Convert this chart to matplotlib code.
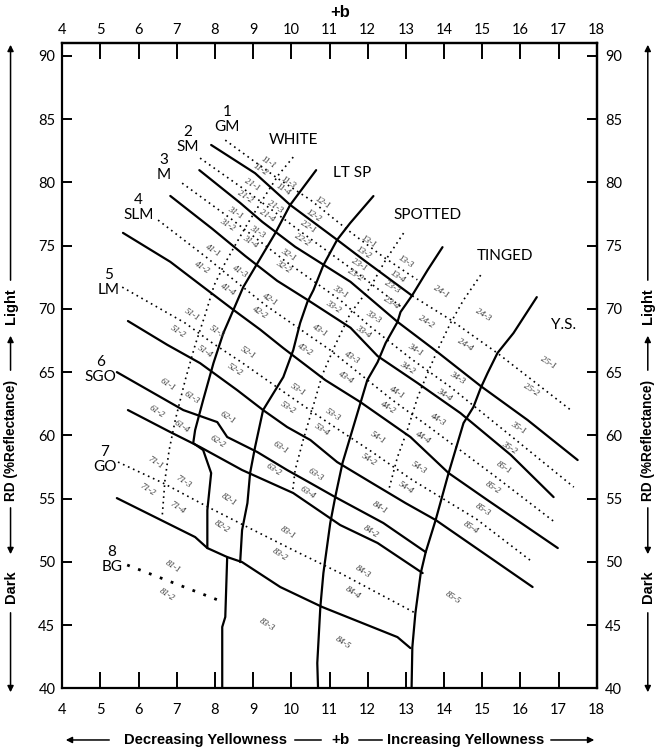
import matplotlib.pyplot as plt
from matplotlib.lines import Line2D

# x axis is +b (yellowness), y axis is Rd (% reflectance)
b_ticks = list(range(4, 19))
rd_ticks = list(range(40, 91, 5))

# solid grade boundaries (upper left to lower right)
gm_sm_line = [(7.90, 82.96), (9.05, 80.73), (9.97, 78.22), (11.20, 75.46), (11.89, 73.88), (13.17, 71.03)]
sm_m_line = [(7.59, 80.97), (8.66, 78.38), (9.24, 76.88), (10.10, 74.91), (11.55, 72.14), (12.78, 68.98),
             (13.83, 66.58), (14.96, 63.90), (16.19, 61.21), (17.50, 58.05)]
m_slm_line = [(6.83, 78.93), (7.93, 76.33), (8.79, 74.19), (9.63, 72.22), (10.42, 70.72), (11.55, 68.51),
              (12.26, 66.27), (13.31, 64.13), (14.43, 61.76), (15.75, 58.45), (16.87, 55.12)]
slm_lm_line = [(5.59, 76.01), (6.83, 73.72), (7.69, 71.74), (8.48, 69.93), (9.19, 68.35), (9.79, 66.90),
               (10.89, 64.37), (11.81, 62.63), (13.12, 59.87), (14.12, 57.02), (15.14, 54.88), (16.98, 51.09)]
lm_sgo_line = [(5.72, 69.04), (6.75, 67.16), (7.61, 65.71), (8.58, 63.58), (9.26, 62.00), (9.89, 60.66),
               (10.50, 59.63), (11.20, 57.89), (12.07, 56.31), (12.99, 54.65), (13.78, 53.31), (16.32, 48.01)]
sgo_mid_line = [(5.43, 65.00), (7.17, 62.00), (8.06, 61.05), (8.32, 59.87), (9.11, 58.68), (9.89, 57.26),
                (10.50, 56.23), (11.15, 55.12), (12.41, 53.07), (13.52, 50.77)]
sgo_go_line = [(5.72, 62.00), (6.83, 60.26), (7.61, 59.08), (8.71, 57.26), (10.05, 55.44), (11.28, 52.91),
               (12.26, 51.49), (13.44, 49.11)]
go_bg_line = [(5.43, 55.04), (7.48, 51.96), (7.80, 51.09), (8.32, 50.38), (8.71, 49.98), (9.71, 48.01),
              (10.81, 46.43), (12.78, 44.05), (13.12, 43.18)]

# solid colour boundaries (top to bottom)
white_ltsp_line = [(10.65, 80.97), (9.97, 78.22), (9.58, 75.99), (9.13, 73.70), (8.74, 71.72), (8.48, 69.90),
                   (8.22, 68.09), (7.96, 65.71), (7.69, 62.79), (7.48, 60.42), (7.43, 59.39), (7.69, 58.84),
                   (7.90, 57.02), (7.80, 54.09), (7.80, 51.09)]
ltsp_spotted_line = [(12.15, 78.92), (11.54, 76.78), (11.20, 75.46), (10.84, 73.46), (10.58, 71.49),
                     (10.42, 70.54), (10.23, 68.88), (10.05, 66.74), (9.79, 64.61), (9.26, 62.00),
                     (9.05, 59.07), (8.92, 57.02), (8.85, 54.65), (8.71, 52.51), (8.66, 49.98)]
spotted_tinged_line = [(13.96, 74.88), (13.57, 73.07), (13.17, 71.09), (12.86, 69.75), (12.78, 68.96),
                       (12.47, 67.30), (12.26, 65.79), (11.99, 64.37), (11.81, 62.55), (11.34, 57.81),
                       (11.15, 55.12), (11.02, 53.07), (10.84, 49.11), (10.76, 46.43), (10.68, 42.00),
                       (10.70, 40.00)]
tinged_ys_line = [(16.43, 70.93), (16.09, 69.35), (15.82, 68.09), (15.40, 66.51), (15.14, 64.92),
                  (14.96, 63.74), (14.77, 62.24), (14.51, 60.97), (14.12, 57.02), (13.78, 53.30),
                  (13.52, 50.77), (13.39, 49.11), (13.25, 45.95), (13.17, 43.26), (13.15, 40.00)]
bg_split_line = [(8.32, 50.38), (8.27, 45.64), (8.19, 44.85), (8.19, 40.00)]

# dotted sub-grade dividers
gm_half = [(8.27, 83.34), (9.63, 80.34), (10.50, 78.62), (11.55, 76.07), (12.41, 74.11), (13.30, 72.30)]
tinged_top_half = [(13.17, 71.03), (14.17, 69.14), (15.40, 66.50), (17.32, 62.00)]
sm_half = [(7.61, 81.92), (8.87, 79.23), (10.37, 75.83), (11.73, 72.83), (12.92, 70.06)]
m_half = [(7.14, 79.94), (8.43, 77.10), (9.84, 73.78), (11.28, 70.70), (12.02, 68.72), (13.15, 66.03),
          (14.17, 63.82), (15.82, 59.79), (17.40, 55.91)]
slm_half = [(6.51, 77.02), (7.80, 74.02), (8.50, 72.28), (9.32, 70.30), (11.02, 66.74), (12.65, 62.79),
            (13.65, 60.58), (15.40, 56.62), (16.93, 53.07)]
lm_half = [(5.57, 71.72), (7.22, 68.88), (7.90, 67.37), (8.69, 65.79), (10.03, 62.95), (10.94, 61.05),
           (12.12, 58.68), (13.17, 56.47), (14.85, 53.38), (16.32, 49.98)]
go_half = [(5.46, 57.89), (6.64, 56.23), (7.82, 54.33), (8.85, 52.75), (10.05, 50.93), (11.28, 49.11),
           (13.25, 45.95)]
white_split = [(10.05, 82.00), (9.66, 80.58), (9.24, 78.60), (8.85, 76.72), (8.53, 75.04), (8.24, 73.48),
               (7.98, 71.88), (7.74, 69.51), (7.48, 67.14), (7.22, 64.37), (6.96, 61.21), (6.80, 58.84),
               (6.69, 56.47), (6.62, 53.70)]
spotted_split = [(12.94, 75.99), (12.47, 73.86), (12.07, 71.72), (11.55, 69.67), (11.15, 67.14),
                 (10.81, 64.77), (10.58, 62.39), (10.31, 59.63), (10.10, 57.26), (10.03, 55.44)]
tinged_split = [(14.96, 72.67), (14.51, 70.70), (14.17, 68.88), (13.83, 66.74), (13.57, 64.92),
                (13.31, 63.03), (13.04, 60.42), (12.78, 58.28), (12.55, 55.67)]
bg_half = [(5.70, 49.75), (8.08, 46.98)]

# colour grade codes (code, b, rd)
white_cells = [("11-1", 9.40, 81.60), ("11-2", 9.19, 80.97), ("11-3", 9.92, 80.02), ("11-4", 9.79, 79.39),
               ("21-1", 8.98, 79.79), ("21-2", 8.79, 78.84), ("21-3", 9.58, 78.05), ("21-4", 9.37, 77.34),
               ("31-1", 8.53, 77.57), ("31-2", 8.32, 76.62), ("31-3", 9.11, 76.07), ("31-4", 8.92, 75.28),
               ("41-1", 7.95, 74.57), ("41-2", 7.66, 73.22), ("41-3", 8.66, 72.91), ("41-4", 8.35, 71.49),
               ("51-1", 7.40, 69.51), ("51-2", 7.04, 68.17), ("51-3", 8.06, 68.17), ("51-4", 7.74, 66.58),
               ("61-1", 6.75, 63.98), ("61-2", 6.48, 61.84), ("61-3", 7.40, 62.95), ("61-4", 7.14, 60.66),
               ("71-1", 6.43, 57.81), ("71-2", 6.22, 55.68), ("71-3", 7.17, 56.31), ("71-4", 7.01, 54.25),
               ("81-1", 6.90, 49.59), ("81-2", 6.75, 47.38)]
ltsp_cells = [("12-1", 10.81, 78.36), ("12-2", 10.58, 77.34), ("22-1", 10.45, 76.47), ("22-2", 10.29, 75.44),
              ("32-1", 9.92, 74.25), ("32-2", 9.79, 73.30), ("42-1", 9.45, 70.70), ("42-2", 9.19, 69.67),
              ("52-1", 8.85, 66.51), ("52-2", 8.53, 65.16), ("62-1", 8.32, 61.37), ("62-2", 8.06, 59.47),
              ("82-1", 8.35, 54.88), ("82-2", 8.19, 52.75)]
spotted_cells = [("13-1", 12.02, 75.28), ("13-2", 11.89, 74.41), ("13-3", 12.99, 73.70), ("13-4", 12.78, 72.51),
                 ("23-1", 11.76, 73.46), ("23-2", 11.68, 72.67), ("23-3", 12.65, 71.72), ("23-4", 12.60, 70.46),
                 ("33-1", 11.28, 71.33), ("33-2", 11.10, 70.14), ("33-3", 12.15, 69.35), ("33-4", 11.89, 68.17),
                 ("43-1", 10.76, 68.24), ("43-2", 10.37, 66.74), ("43-3", 11.60, 66.11), ("43-4", 11.42, 64.53),
                 ("53-1", 10.16, 63.58), ("53-2", 9.92, 62.16), ("53-3", 11.10, 61.60), ("53-4", 10.81, 60.42),
                 ("63-1", 9.71, 59.00), ("63-2", 9.53, 57.26), ("63-3", 10.63, 56.86), ("63-4", 10.42, 55.44),
                 ("83-1", 9.92, 52.28), ("83-2", 9.71, 50.54), ("83-3", 9.37, 45.00)]
tinged_cells = [("24-1", 13.91, 71.33), ("24-2", 13.52, 68.96), ("24-3", 15.01, 69.51), ("24-4", 14.56, 67.14),
                ("34-1", 13.25, 66.74), ("34-2", 13.04, 65.32), ("34-3", 14.35, 64.53), ("34-4", 13.99, 63.19),
                ("44-1", 12.78, 63.34), ("44-2", 12.52, 62.16), ("44-3", 13.83, 61.21), ("44-4", 13.46, 59.79),
                ("54-1", 12.26, 59.79), ("54-2", 12.02, 58.05), ("54-3", 13.33, 57.41), ("54-4", 12.99, 55.83),
                ("84-1", 12.33, 54.25), ("84-2", 12.07, 52.36), ("84-3", 11.86, 49.19), ("84-4", 11.60, 47.53),
                ("84-5", 11.36, 43.58)]
ys_cells = [("25-1", 16.72, 65.71), ("25-2", 16.27, 63.58), ("35-1", 15.95, 60.58), ("35-2", 15.69, 59.00),
            ("85-1", 15.56, 57.41), ("85-2", 15.27, 55.83), ("85-3", 15.01, 54.09), ("85-4", 14.70, 52.67),
            ("85-5", 14.22, 47.14)]

# grade names, number above name
grade_numbers = ["1", "2", "3", "4", "5", "6", "7", "8"]
grade_names = ["GM", "SM", "M", "SLM", "LM", "SGO", "GO", "BG"]
grade_b = [8.32, 7.28, 6.66, 6.00, 5.22, 4.99, 5.12, 5.30]
grade_rd = [84.37, 82.78, 80.57, 77.43, 71.49, 64.61, 57.50, 49.59]

colour_names = ["WHITE", "LT SP", "SPOTTED", "TINGED", "Y.S."]
colour_b = [10.05, 11.60, 13.57, 15.61, 17.13]
colour_rd = [83.35, 80.73, 77.43, 74.17, 68.72]

plt.rcParams["font.family"] = ["Lato", "DejaVu Sans"]
caption_font = ["Liberation Sans", "DejaVu Sans"]

fig = plt.figure(figsize=(6.59, 7.54), dpi=100)
ax = fig.add_axes([0.0945, 0.0871, 0.811, 0.8555])
ax.set_xlim(4, 18)
ax.set_ylim(40, 91)

solid_lines = [gm_sm_line, sm_m_line, m_slm_line, slm_lm_line, lm_sgo_line, sgo_mid_line, sgo_go_line,
               go_bg_line, white_ltsp_line, ltsp_spotted_line, spotted_tinged_line, tinged_ys_line,
               bg_split_line]
dotted_lines = [gm_half, tinged_top_half, sm_half, m_half, slm_half, lm_half, go_half,
                white_split, spotted_split, tinged_split]

for line in solid_lines:
    xs, ys = zip(*line)
    ax.plot(xs, ys, color="black", linewidth=1.6, solid_joinstyle="round", solid_capstyle="round")

for line in dotted_lines:
    xs, ys = zip(*line)
    ax.plot(xs, ys, color="black", linewidth=1.2, linestyle=(0, (1, 2.3)))

xs, ys = zip(*bg_half)
ax.plot(xs, ys, color="black", linewidth=2.0, linestyle=(0, (1, 3.2)))

for cells in [white_cells, ltsp_cells, spotted_cells, tinged_cells, ys_cells]:
    for code, b, rd in cells:
        ax.text(b, rd, code, rotation=-33, rotation_mode="anchor", ha="center", va="center",
                fontsize=6.5, family="Liberation Serif", style="italic", color="#333333")

for number, name, b, rd in zip(grade_numbers, grade_names, grade_b, grade_rd):
    ax.text(b, rd, name, ha="center", va="center", fontsize=11)
    ax.text(b, rd + 1.2, number, ha="center", va="center", fontsize=11)

for name, b, rd in zip(colour_names, colour_b, colour_rd):
    ax.text(b, rd, name, ha="center", va="center", fontsize=11)

# ticks on all four sides, pointing in
ax.set_xticks(b_ticks)
ax.set_yticks(rd_ticks)
ax.tick_params(axis="x", direction="in", length=11.5, width=1.4, pad=10.5, labelsize=10.5)
ax.tick_params(axis="y", direction="in", length=7.2, width=1.4, pad=5, labelsize=10.5)
top = ax.secondary_xaxis("top")
top.set_xticks(b_ticks)
top.tick_params(direction="in", length=11.5, width=1.4, pad=4.5, labelsize=10.5)
right = ax.secondary_yaxis("right")
right.set_yticks(rd_ticks)
right.tick_params(direction="in", length=7.2, width=1.4, pad=6, labelsize=10.5)
for axis in (ax, top, right):
    for spine in axis.spines.values():
        spine.set_linewidth(1.6)

# axis captions with arrows
arrow = dict(arrowstyle="-|>", color="black", linewidth=1.1, mutation_scale=9)
fig.text(0.516, 0.984, "+b", ha="center", va="center", fontsize=12, weight="bold", family=caption_font)

caption_y = 0.0186
fig.text(0.3118, caption_y, "Decreasing Yellowness", ha="center", va="center", fontsize=10.6,
         weight="bold", family=caption_font)
fig.text(0.5167, caption_y, "+b", ha="center", va="center", fontsize=11, weight="bold", family=caption_font)
fig.text(0.7071, caption_y, "Increasing Yellowness", ha="center", va="center", fontsize=10.6,
         weight="bold", family=caption_font)
fig.add_artist(Line2D([0.448, 0.487], [caption_y, caption_y], color="black", linewidth=1.1))
fig.add_artist(Line2D([0.545, 0.580], [caption_y, caption_y], color="black", linewidth=1.1))
fig.add_artist(plt.Annotation("", xy=(0.0956, caption_y), xytext=(0.170, caption_y),
                              xycoords="figure fraction", arrowprops=arrow))
fig.add_artist(plt.Annotation("", xy=(0.906, caption_y), xytext=(0.8316, caption_y),
                              xycoords="figure fraction", arrowprops=arrow))

for side_x in (0.016, 0.983):
    fig.text(side_x, 0.594, "Light", rotation=90, ha="center", va="center", fontsize=10.5,
             weight="bold", family=caption_font)
    fig.text(side_x, 0.4164, "RD (%Reflectance)", rotation=90, ha="center", va="center", fontsize=9.8,
             weight="bold", family=caption_font)
    fig.text(side_x, 0.2215, "Dark", rotation=90, ha="center", va="center", fontsize=10.5,
             weight="bold", family=caption_font)
    fig.add_artist(plt.Annotation("", xy=(side_x, 0.9443), xytext=(side_x, 0.6247),
                                  xycoords="figure fraction", arrowprops=arrow))
    fig.add_artist(plt.Annotation("", xy=(side_x, 0.5584), xytext=(side_x, 0.5053),
                                  xycoords="figure fraction", arrowprops=arrow))
    fig.add_artist(plt.Annotation("", xy=(side_x, 0.2613), xytext=(side_x, 0.3302),
                                  xycoords="figure fraction", arrowprops=arrow))
    fig.add_artist(plt.Annotation("", xy=(side_x, 0.0782), xytext=(side_x, 0.191),
                                  xycoords="figure fraction", arrowprops=arrow))

fig.savefig("out.png", dpi=100)
